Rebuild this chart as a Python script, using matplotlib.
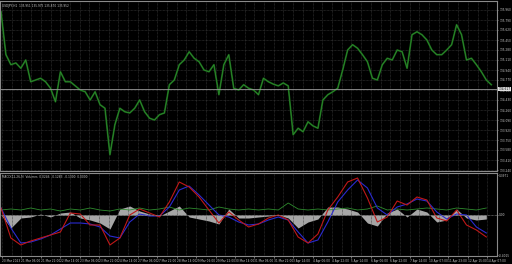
import matplotlib.pyplot as plt
import numpy as np

# price closes, one point every 4 bars
price = [135.93, 135.20, 135.03, 135.06, 134.97, 135.11, 134.74, 134.77, 134.80, 134.74,
         134.63, 134.40, 134.91, 134.74, 134.74, 134.67, 134.60, 134.57, 134.43, 134.57,
         134.35, 134.29, 133.50, 134.01, 134.29, 134.23, 134.21, 134.29, 134.43, 134.23,
         134.12, 134.09, 134.18, 134.21, 134.69, 134.77, 135.03, 135.11, 135.25, 135.14,
         135.08, 134.94, 134.91, 135.03, 134.52, 135.03, 135.20, 134.63, 134.60, 134.69,
         134.63, 134.60, 134.52, 134.80, 134.74, 134.70, 134.67, 134.72, 134.67, 133.84,
         133.95, 133.89, 134.06, 133.99, 133.95, 134.43, 134.52, 134.57, 134.63, 134.94,
         135.28, 135.37, 135.31, 135.20, 135.08, 134.80, 134.77, 135.03, 135.14, 135.11,
         135.28, 135.25, 134.97, 135.54, 135.59, 135.54, 135.45, 135.28, 135.20, 135.20,
         135.28, 135.37, 135.71, 135.54, 135.11, 135.14, 135.03, 134.91, 134.77, 134.69]

# indicator pane, one point every 8 bars
macd_red = [0.07, -0.23, -0.30, -0.26, -0.23, -0.20, -0.17, 0.02, 0.01, -0.10,
            -0.10, -0.30, -0.23, 0.00, 0.06, 0.02, -0.02, 0.13, 0.33, 0.28,
            0.18, 0.05, -0.08, 0.03, -0.05, -0.12, -0.09, -0.03, 0.00, -0.05,
            -0.22, -0.28, -0.19, 0.05, 0.18, 0.33, 0.37, 0.17, -0.07, -0.02,
            0.14, 0.10, 0.18, 0.15, -0.03, -0.06, 0.05, -0.10, -0.15, -0.22]
macd_blue = [0.07, -0.13, -0.28, -0.27, -0.24, -0.20, -0.14, -0.08, -0.08, -0.09,
             -0.12, -0.21, -0.23, -0.07, 0.01, -0.01, -0.01, 0.08, 0.25, 0.29,
             0.20, 0.10, 0.00, -0.02, -0.07, -0.10, -0.09, -0.05, -0.02, -0.05,
             -0.17, -0.28, -0.25, -0.07, 0.13, 0.25, 0.35, 0.27, 0.07, 0.00,
             0.08, 0.11, 0.16, 0.14, 0.03, -0.04, 0.01, 0.00, -0.12, -0.18]
hist = [0.00, -0.13, -0.03, -0.02, 0.01, -0.02, 0.02, 0.03, -0.03, -0.05,
        -0.08, -0.14, 0.06, 0.09, 0.04, 0.01, -0.01, 0.04, 0.09, -0.02,
        -0.04, -0.06, -0.09, 0.06, -0.03, -0.03, -0.02, -0.01, 0.00, -0.03,
        -0.13, -0.07, -0.04, 0.08, 0.08, 0.06, 0.03, -0.08, -0.11, 0.02,
        0.06, -0.02, 0.06, 0.03, -0.07, -0.05, 0.06, -0.03, -0.05, -0.04]
volumes = [0.05, 0.06, 0.05, 0.07, 0.05, 0.06, 0.04, 0.06, 0.05, 0.07,
           0.05, 0.04, 0.06, 0.05, 0.07, 0.05, 0.06, 0.08, 0.05, 0.07,
           0.06, 0.05, 0.08, 0.06, 0.05, 0.06, 0.05, 0.06, 0.05, 0.12,
           0.06, 0.05, 0.06, 0.05, 0.06, 0.07, 0.05, 0.06, 0.09, 0.05,
           0.06, 0.05, 0.06, 0.07, 0.06, 0.05, 0.07, 0.06, 0.05, 0.07]

price_ticks = [135.96, 135.79, 135.62, 135.45, 135.28, 135.11, 134.94, 134.77, 134.60,
               134.43, 134.26, 134.09, 133.92, 133.75, 133.58, 133.41, 133.24]
last_price = 134.617

time_labels = ["20 Mar 2023", "21 Mar 06:00", "21 Mar 22:00", "22 Mar 14:00", "23 Mar 06:00",
               "23 Mar 22:00", "24 Mar 14:00", "27 Mar 06:00", "27 Mar 22:00", "28 Mar 14:00",
               "29 Mar 06:00", "29 Mar 22:00", "30 Mar 14:00", "31 Mar 06:00", "31 Mar 22:00",
               "3 Apr 14:00", "4 Apr 06:00", "4 Apr 22:00", "5 Apr 14:00", "6 Apr 06:00",
               "6 Apr 22:00", "7 Apr 14:00", "10 Apr 07:00", "11 Apr 23:00", "12 Apr 15:00",
               "14 Apr 07:00"]

plt.rcParams['font.family'] = ['Liberation Sans Narrow', 'DejaVu Sans']

BG = 'black'
FG = '#c8c8c8'
GRID = '#3a3a3a'
EDGE = '#8a8a8a'
FS = 2.1

fig = plt.figure(figsize=(5.12, 2.64), dpi=100, facecolor=BG)
ax = fig.add_axes([0.0, 1 - 171 / 264, 497 / 512, 170 / 264], facecolor=BG)
ax2 = fig.add_axes([0.0, 1 - 256 / 264, 497 / 512, 83 / 264], facecolor=BG)

xp = np.arange(len(price))
xi = np.arange(len(macd_red)) * 2
tick_x = np.arange(len(time_labels)) * 3.92 + 0.2

# main price pane
ax.plot(xp, price, color='#165c16', lw=1.3)
ax.plot(xp, price, color='#2f8f2f', lw=0.5)
ax.axhline(last_price, color='#9a9a9a', lw=0.6)
ax.set_xlim(-0.2, 99.2)
ax.set_ylim(133.223, 136.113)
ax.yaxis.tick_right()
ax.set_yticks(price_ticks)
ax.set_yticklabels([f"{v:.3f}" for v in price_ticks])
ax.set_xticks(tick_x)
ax.set_xticks(tick_x + 1.96, minor=True)
ax.set_xticklabels([])
ax.tick_params(axis='y', colors=FG, labelsize=FS, length=1.0, width=0.4, pad=0.6)
ax.tick_params(axis='x', length=0, which='both')
ax.grid(True, which='both', color=GRID, lw=0.5, ls=(0, (1, 1)))
ax.text(1.003, last_price, f"{last_price:.3f}", transform=ax.get_yaxis_transform(),
        fontsize=FS, color='black', va='center', ha='left',
        bbox=dict(boxstyle='square,pad=0.12', fc='#e0e0e0', ec='none'))
ax.text(0.004, 0.985, "USDJPY,H1  135.951 135.975 135.870 135.952", transform=ax.transAxes,
        fontsize=FS, color=FG, va='top', ha='left')

# indicator pane
ax2.fill_between(xi, hist, 0, color='#a6a6a6', lw=0)
ax2.plot(xi, volumes, color='#2e8b2e', lw=0.6)
ax2.plot(xi, macd_blue, color='#2a2ad0', lw=0.8)
ax2.plot(xi, macd_red, color='#c01818', lw=0.8)
ax2.axhline(0, color='#9a9a9a', lw=0.5, ls=(0, (1, 1)))
ax2.set_xlim(-0.2, 99.2)
ax2.set_ylim(-0.41, 0.42)
ax2.yaxis.tick_right()
ax2.set_yticks([0.3971, 0.0, -0.4015])
ax2.set_yticklabels(["0.3971", "0.00", "-0.4015"])
ax2.set_xticks(tick_x)
ax2.set_xticks(tick_x + 1.96, minor=True)
ax2.set_xticklabels(time_labels, ha='left')
ax2.tick_params(axis='y', colors=FG, labelsize=FS, length=1.0, width=0.4, pad=0.6)
ax2.tick_params(axis='x', colors=FG, labelsize=FS, length=1.2, width=0.4, pad=1)
ax2.tick_params(axis='x', which='minor', length=0)
ax2.grid(True, axis='x', which='both', color=GRID, lw=0.5, ls=(0, (1, 1)))
ax2.text(0.004, 0.97, "MACD(12,26,9)  Volumes  0.0246  -0.1283  -0.1300  0.0000",
         transform=ax2.transAxes, fontsize=FS, color=FG, va='top', ha='left')

for a in (ax, ax2):
    for s in a.spines.values():
        s.set_color(EDGE)
        s.set_linewidth(0.8)

fig.savefig('out.png', dpi=100, facecolor=BG)
